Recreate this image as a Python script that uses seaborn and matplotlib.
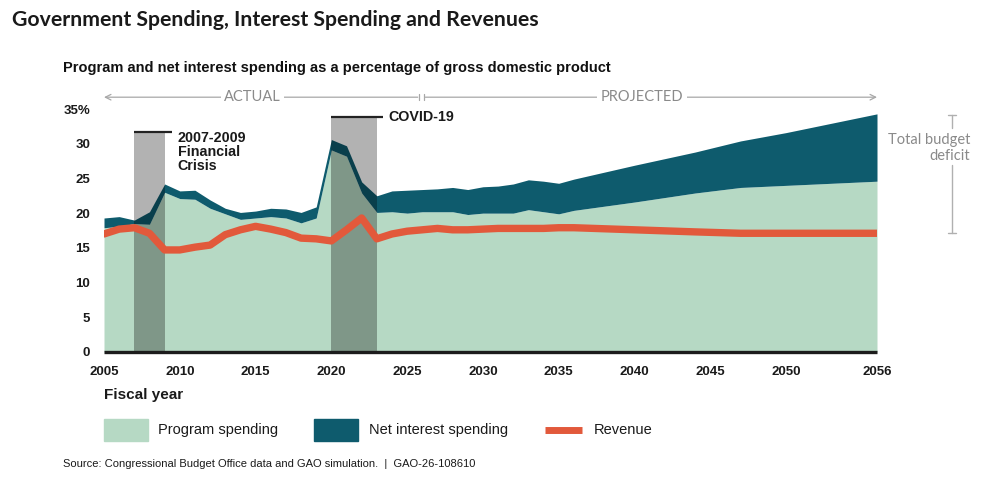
import matplotlib
matplotlib.use("Agg")
import matplotlib.pyplot as plt
import pandas as pd
import seaborn as sns
from matplotlib.patches import Rectangle
from matplotlib.lines import Line2D

# data, % of GDP
years = list(range(2005, 2037)) + [2040, 2044, 2047, 2050, 2056]
program = [17.9, 18.1, 18.5, 18.4, 23.0, 22.1, 22.0, 20.7, 19.9, 19.1,
           19.3, 19.5, 19.3, 18.6, 19.3, 29.1, 28.2, 22.9, 20.1, 20.2,
           20.0, 20.2, 20.2, 20.2, 19.8, 20.0, 20.0, 20.0, 20.5, 20.2,
           19.9, 20.4, 21.6, 22.9, 23.7, 24.0, 24.6]
total = [19.3, 19.5, 19.0, 20.2, 24.2, 23.2, 23.3, 21.9, 20.7, 20.1,
         20.3, 20.7, 20.6, 20.1, 20.9, 30.6, 29.7, 24.5, 22.5, 23.2,
         23.3, 23.4, 23.5, 23.7, 23.4, 23.8, 23.9, 24.2, 24.8, 24.6,
         24.3, 24.9, 26.9, 28.8, 30.4, 31.6, 34.3]
revenue = [17.0, 17.7, 17.9, 17.1, 14.7, 14.7, 15.1, 15.4, 16.9, 17.6,
           18.1, 17.7, 17.2, 16.4, 16.3, 16.0, 17.6, 19.3, 16.3, 17.0,
           17.4, 17.6, 17.8, 17.6, 17.6, 17.7, 17.8, 17.8, 17.8, 17.8,
           17.9, 17.9, 17.6, 17.3, 17.1, 17.1, 17.1]
net_interest = [t - p for t, p in zip(total, program)]

x_ticks = [2005, 2010, 2015, 2020, 2025, 2030, 2035, 2040, 2045, 2050, 2056]
y_ticks = [0, 5, 10, 15, 20, 25, 30, 35]
y_labels = ["0", "5", "10", "15", "20", "25", "30", "35%"]

df = pd.DataFrame({"year": years, "program": program, "total": total,
                   "revenue": revenue, "interest": net_interest})

GREEN = "#b6d9c4"
TEAL = "#0e5b6d"
ORANGE = "#e2593b"
GRAY = "#8a8a8a"

sns.set_theme(style="white")
plt.rcParams["font.family"] = ["Liberation Sans", "DejaVu Sans"]

W, H = 985, 483
fig = plt.figure(figsize=(W / 100, H / 100), dpi=100)
ax = fig.add_axes([104 / W, 1 - 352 / H, 773 / W, 243 / H])


def fx(x):
    return x / W


def fy(y):
    return 1 - y / H


# stacked areas
ax.fill_between(df["year"], 0, df["program"], color=GREEN, lw=0, zorder=1)
ax.fill_between(df["year"], df["program"], df["total"], color=TEAL, lw=0, zorder=1)

# shaded periods
for x0, x1, top, xend, label, ly in [(2007, 2009, 31.7, 2009.5, "2007-2009\nFinancial\nCrisis", 31.9),
                                     (2020, 2023, 33.9, 2023.4, "COVID-19", 33.9)]:
    ax.fill_between([x0, x1], 0, top, color="black", alpha=0.3, lw=0, zorder=2)
    ax.plot([x0, xend], [top, top], color="#222222", lw=1.6, zorder=3,
            solid_capstyle="butt")
    ax.text(xend + 0.35, ly, label, fontsize=10.3, fontweight="bold", color="#1a1a1a",
            va="top" if "\n" in label else "center", ha="left",
            linespacing=1.0, zorder=4)

# revenue line
sns.lineplot(data=df, x="year", y="revenue", color=ORANGE, lw=5.3, ax=ax,
             zorder=4, legend=False)

ax.plot([2005, 2056], [0, 0], color="#1c1c1c", lw=2.4, zorder=5, clip_on=False,
        solid_capstyle="butt")

ax.set_xlim(2005, 2056)
ax.set_ylim(0, 35)
ax.set_xticks(x_ticks)
ax.set_xticklabels([str(t) for t in x_ticks], fontsize=9.5, fontweight="bold",
                   color="#1a1a1a")
ax.set_yticks(y_ticks)
ax.set_yticklabels(y_labels, fontsize=9.5, fontweight="bold", color="#1a1a1a")
ax.tick_params(axis="both", length=0)
ax.tick_params(axis="x", pad=10)
ax.tick_params(axis="y", pad=10)
ax.set_xlabel("")
ax.set_ylabel("")
for s in ax.spines.values():
    s.set_visible(False)

# actual / projected header
hy = 36.7
arrow = dict(arrowstyle="->", color="#a8a8a8", lw=0.9, shrinkA=0, shrinkB=0,
             mutation_scale=10)
ax.annotate("", xy=(2005, hy), xytext=(2025.7, hy), arrowprops=arrow,
            annotation_clip=False)
ax.annotate("", xy=(2056, hy), xytext=(2026.2, hy), arrowprops=arrow,
            annotation_clip=False)
for bx in (2025.8, 2026.1):
    ax.plot([bx, bx], [hy - 0.45, hy + 0.45], color="#a8a8a8", lw=0.9, clip_on=False)
for tx, txt in [(2014.8, "ACTUAL"), (2040.5, "PROJECTED")]:
    ax.text(tx, hy, txt, fontsize=10.5, color=GRAY, ha="center", va="center",
            family=["Lato", "DejaVu Sans"],
            bbox=dict(facecolor="white", edgecolor="none", pad=2.5), clip_on=False)

# total budget deficit bracket
bcol = "#b0b0b0"
bx = fx(952)
for y0, y1 in [(115, 128), (165, 233)]:
    fig.add_artist(Line2D([bx, bx], [fy(y0), fy(y1)], color=bcol, lw=1.0))
for yc in (115, 233):
    fig.add_artist(Line2D([fx(948), fx(956)], [fy(yc), fy(yc)], color=bcol, lw=1.0))
fig.text(fx(970), fy(148), "Total budget\ndeficit", fontsize=10.5, color=GRAY,
         ha="right", va="center", family=["Lato", "DejaVu Sans"], linespacing=1.25)

# titles
fig.text(fx(12), fy(20), "Government Spending, Interest Spending and Revenues",
         fontsize=15.3, fontweight="bold", color="#1a1a1a", ha="left", va="center",
         family=["Lato", "DejaVu Sans"])
fig.text(fx(63), fy(68), "Program and net interest spending as a percentage of gross domestic product",
         fontsize=10.5, fontweight="bold", color="#111111", ha="left", va="center")
fig.text(fx(104), fy(395), "Fiscal year", fontsize=11, fontweight="bold",
         color="#1a1a1a", ha="left", va="center")

# legend
ly = 430
fig.add_artist(Rectangle((fx(104), fy(441)), 44 / W, 22 / H, color=GREEN,
                         transform=fig.transFigure))
fig.text(fx(158), fy(ly), "Program spending", fontsize=10.5, color="#1a1a1a",
         ha="left", va="center")
fig.add_artist(Rectangle((fx(314), fy(441)), 44 / W, 22 / H, color=TEAL,
                         transform=fig.transFigure))
fig.text(fx(369), fy(ly), "Net interest spending", fontsize=10.5, color="#1a1a1a",
         ha="left", va="center")
fig.add_artist(Line2D([fx(545), fx(582)], [fy(ly), fy(ly)], color=ORANGE, lw=5,
                      solid_capstyle="butt"))
fig.text(fx(594), fy(ly), "Revenue", fontsize=10.5, color="#1a1a1a",
         ha="left", va="center")

fig.text(fx(63), fy(464),
         "Source: Congressional Budget Office data and GAO simulation.  |  GAO-26-108610",
         fontsize=8, color="#1a1a1a", ha="left", va="center")

fig.savefig("out.png", dpi=100, facecolor="white")
